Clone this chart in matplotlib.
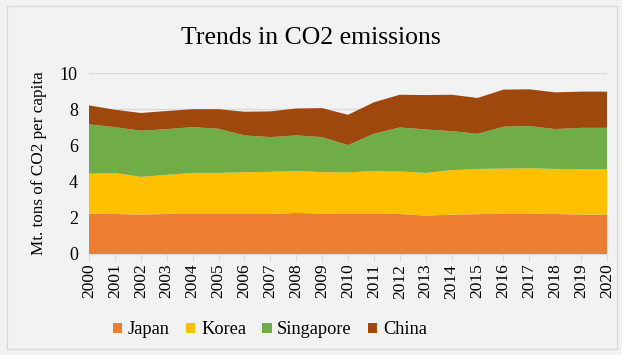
import numpy as np
from matplotlib import pyplot as plt
from matplotlib.patches import Rectangle

years = list(range(2000, 2021))
japan = [2.23, 2.21, 2.18, 2.21, 2.21, 2.21, 2.21, 2.21, 2.27, 2.23, 2.23,
         2.23, 2.21, 2.12, 2.18, 2.20, 2.23, 2.23, 2.21, 2.18, 2.18]
korea = [2.20, 2.27, 2.08, 2.16, 2.27, 2.27, 2.31, 2.33, 2.32, 2.29, 2.28,
         2.35, 2.35, 2.36, 2.45, 2.50, 2.49, 2.51, 2.49, 2.51, 2.51]
singapore = [2.73, 2.53, 2.55, 2.53, 2.53, 2.44, 2.03, 1.92, 1.96, 1.94, 1.50,
             2.06, 2.43, 2.40, 2.16, 1.94, 2.31, 2.33, 2.20, 2.28, 2.28]
china = [1.05, 0.96, 0.98, 1.00, 0.99, 1.08, 1.31, 1.42, 1.49, 1.60, 1.68,
         1.74, 1.81, 1.90, 2.01, 1.98, 2.05, 2.03, 2.03, 2.00, 2.00]
labels = ['Japan', 'Korea', 'Singapore', 'China']
colors = ['#ED7D31', '#FFC000', '#70AD47', '#9E480E']

plt.rcParams['font.family'] = ['Liberation Serif', 'DejaVu Serif']
bg = '#F2F2F2'

fig = plt.figure(figsize=(6.22, 3.55), dpi=100, facecolor=bg)
fig.patches.append(Rectangle((7 / 622, 6 / 355), 610 / 622, 343 / 355,
                             transform=fig.transFigure, fill=False,
                             edgecolor='#D9D9D9', lw=1))
ax = fig.add_axes([89 / 622, 1 - 254 / 355, 518 / 622, 181 / 355])
ax.set_facecolor(bg)

ax.stackplot(years, japan, korea, singapore, china, labels=labels,
             colors=colors, lw=0)
ax.set_xlim(2000, 2020)
ax.set_ylim(0, 10)
ax.set_yticks(range(0, 11, 2))
ax.set_xticks(years)
ax.set_xticklabels([str(y) for y in years], rotation=90)
ax.grid(axis='y', color='#D9D9D9', lw=1)
ax.set_axisbelow(True)
for s in ['top', 'right', 'left']:
    ax.spines[s].set_visible(False)
ax.spines['bottom'].set_color('#D9D9D9')
ax.tick_params(axis='y', length=0, labelsize=13, pad=8)
ax.tick_params(axis='x', length=5, color='#D9D9D9', labelsize=12.5, pad=2)
ax.set_ylabel('Mt. tons of CO2 per capita', fontsize=12.3, labelpad=9)

fig.text(0.5, 1 - 38 / 355, 'Trends in CO2 emissions', ha='center',
         va='center', fontsize=18.5)
ax.legend(loc='center', bbox_to_anchor=(270 / 622, 1 - 330 / 355),
          bbox_transform=fig.transFigure, ncol=4, frameon=False,
          fontsize=13.2, handlelength=0.5, handleheight=0.5,
          handletextpad=0.3, columnspacing=0.9, borderpad=0)

fig.savefig('out.png', dpi=100, facecolor=bg)
